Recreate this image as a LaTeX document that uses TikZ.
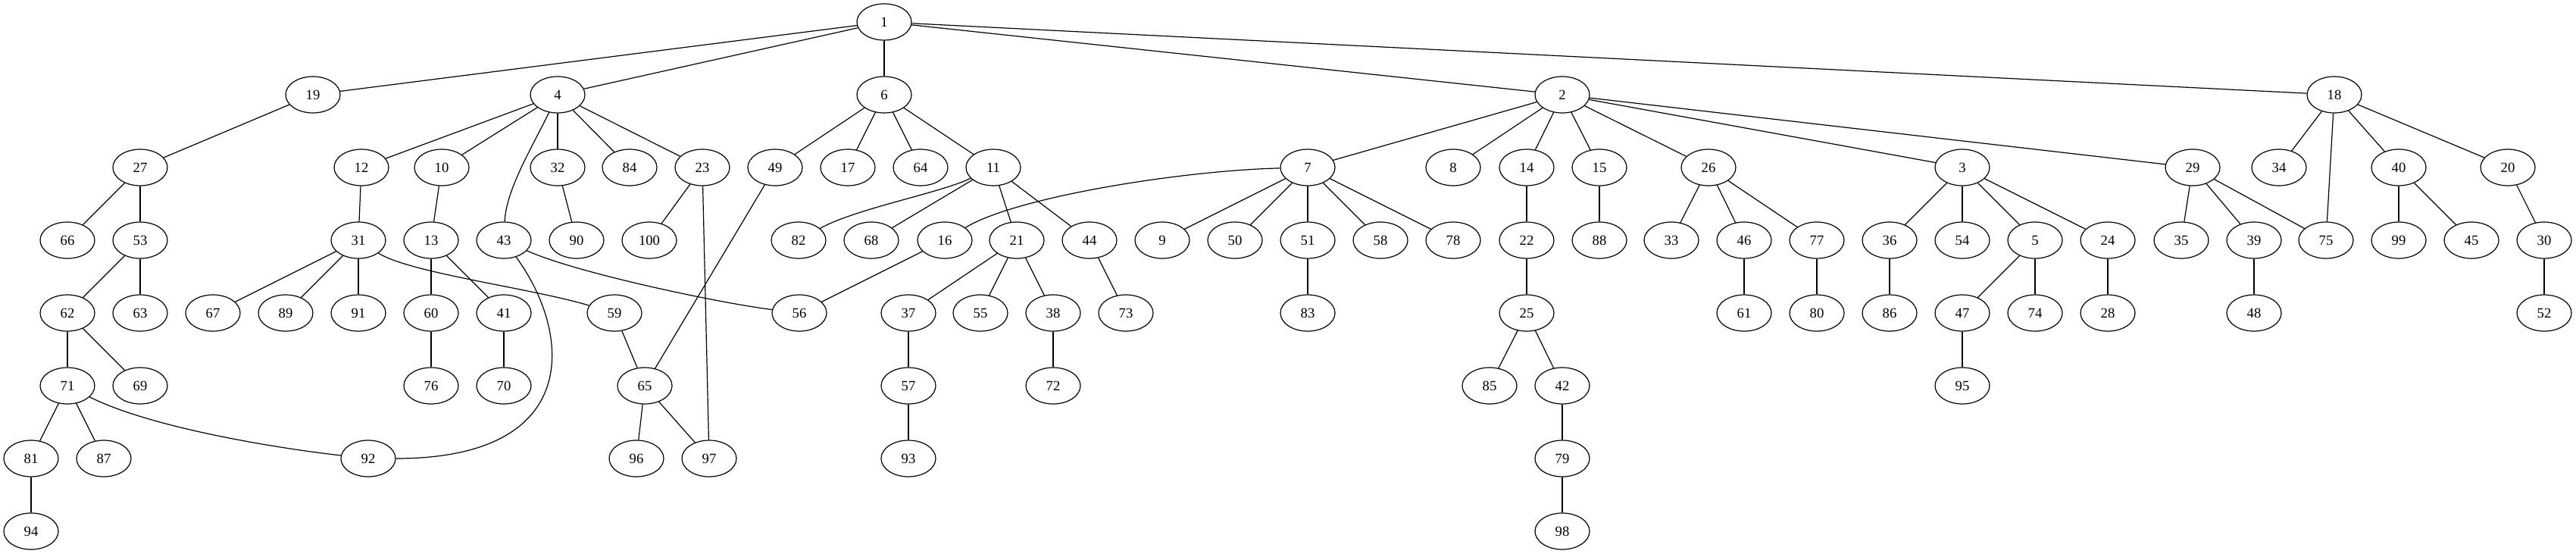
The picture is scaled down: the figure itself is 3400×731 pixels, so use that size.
\documentclass[tikz,border=0pt]{standalone}
\usepackage{fontspec}
\setmainfont{Liberation Serif}
\usetikzlibrary{shapes.geometric}
\begin{document}
\begin{tikzpicture}[x=0.75pt,y=-0.75pt,
  nd/.style={draw,ellipse,minimum width=54pt,minimum height=36pt,inner sep=0pt,line width=0.9pt,font=\fontsize{14}{16}\selectfont},
  ed/.style={line width=0.9pt}]
\useasboundingbox (0,0) rectangle (3400,731);
\foreach \n/\x/\y in {
 1/1167/29,
 19/413/125, 4/736/125, 6/1167/125, 2/2062/125, 18/3081/125,
 27/185/221, 12/477/221, 10/583/221, 32/736/221, 84/831/221, 23/927/221, 49/1023/221, 17/1119/221, 64/1215/221, 11/1311/221, 7/1726/221, 8/1918/221, 14/2015/221, 15/2111/221, 26/2255/221, 3/2590/221, 29/2894/221, 34/3008/221, 40/3166/221, 20/3310/221,
 66/89/317, 53/185/317, 31/473/317, 13/569/317, 43/665/317, 90/761/317, 100/857/317, 82/1054/317, 68/1150/317, 16/1247/317, 21/1342/317, 44/1438/317, 9/1534/317, 50/1630/317, 51/1726/317, 58/1822/317, 78/1918/317, 22/2015/317, 88/2111/317, 33/2206/317, 46/2302/317, 77/2398/317, 36/2494/317, 54/2590/317, 5/2686/317, 24/2782/317, 35/2879/317, 39/2975/317, 75/3070/317, 99/3166/317, 45/3262/317, 30/3358/317,
 62/89/413, 63/185/413, 67/281/413, 89/377/413, 91/473/413, 60/569/413, 41/665/413, 59/811/413, 56/1055/413, 37/1199/413, 55/1294/413, 38/1390/413, 73/1486/413, 83/1726/413, 25/2015/413, 61/2302/413, 80/2398/413, 86/2494/413, 47/2590/413, 74/2686/413, 28/2782/413, 48/2975/413, 52/3358/413,
 71/89/509, 69/185/509, 76/569/509, 70/665/509, 65/851/509, 57/1199/509, 72/1390/509, 85/1966/509, 42/2062/509, 95/2590/509,
 81/41/605, 87/137/605, 92/486/605, 96/840/605, 97/936/605, 93/1199/605, 79/2062/605,
 94/41/701, 98/2062/701}
 \node[nd] (n\n) at (\x,\y) {\n};
\foreach \a/\b in {
 1/19, 1/4, 1/6, 1/2, 1/18,
 19/27,
 4/12, 4/10, 4/32, 4/84, 4/23,
 6/49, 6/17, 6/64, 6/11,
 2/7, 2/8, 2/14, 2/15, 2/26, 2/3, 2/29,
 18/34, 18/75, 18/40, 18/20,
 27/66, 27/53, 12/31, 10/13, 32/90, 23/100, 23/97, 49/65,
 11/68, 11/21, 11/44,
 7/9, 7/50, 7/51, 7/58, 7/78,
 14/22, 15/88, 26/33, 26/46, 26/77,
 3/36, 3/54, 3/5, 3/24, 29/35, 29/39, 29/75, 40/99, 40/45, 20/30,
 53/62, 53/63, 31/67, 31/89, 31/91, 13/60, 13/41, 16/56,
 21/37, 21/55, 21/38, 44/73, 51/83, 22/25, 46/61, 77/80, 36/86, 5/47, 5/74, 24/28, 39/48, 30/52,
 62/71, 62/69, 60/76, 41/70, 59/65, 37/57, 38/72, 25/85, 25/42, 47/95,
 71/81, 71/87, 65/96, 65/97, 57/93, 42/79, 81/94, 79/98}
 \draw[ed] (n\a) -- (n\b);
\draw[ed] (n4) .. controls (702,195) and (668,250) .. (n43);
\draw[ed] (n43) .. controls (755,440) and (770,605) .. (n92);
\draw[ed] (n43) .. controls (760,360) and (950,400) .. (n56);
\draw[ed] (n31) .. controls (540,360) and (700,380) .. (n59);
\draw[ed] (n71) .. controls (200,565) and (370,592) .. (n92);
\draw[ed] (n11) .. controls (1240,255) and (1130,275) .. (n82);
\draw[ed] (n7) .. controls (1560,225) and (1340,260) .. (n16);
\end{tikzpicture}
\end{document}
